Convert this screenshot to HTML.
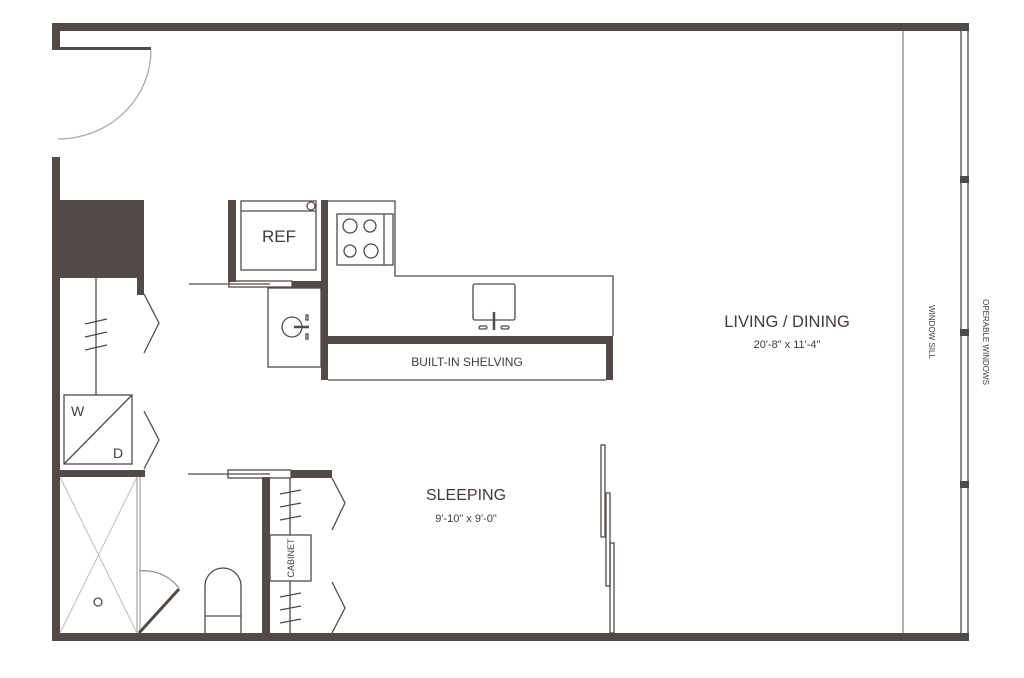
<!DOCTYPE html>
<html><head><meta charset="utf-8"><style>
html,body{margin:0;padding:0;background:#fff;}
svg{display:block;}
text{font-family:"Liberation Sans",sans-serif;fill:#433b39;}
</style></head><body>
<svg width="1024" height="678" viewBox="0 0 1024 678" xmlns="http://www.w3.org/2000/svg">
<g fill="#524a46">
<rect x="52" y="23" width="917" height="8"/>
<rect x="52" y="633" width="917" height="8"/>
<rect x="52" y="23" width="8" height="27"/>
<rect x="52" y="47" width="99" height="3"/>
<rect x="52" y="157" width="8" height="484"/>
<rect x="60" y="200" width="84" height="78"/>
<rect x="137" y="278" width="7" height="17"/>
<rect x="60" y="470" width="85" height="7"/>
<rect x="228" y="200" width="8" height="82"/>
<rect x="292" y="281" width="30" height="7"/>
<rect x="321" y="200" width="7" height="180"/>
<rect x="328" y="336" width="285" height="8"/>
<rect x="606" y="344" width="7" height="36"/>
<rect x="262" y="477" width="8" height="156"/>
<rect x="291" y="470" width="41" height="8"/>
<rect x="960" y="176" width="9" height="7"/>
<rect x="960" y="329" width="9" height="7"/>
<rect x="960" y="481" width="9" height="7"/>
</g>
<g fill="none" stroke="#524a46" stroke-width="1.3">
<path d="M151 50 A93 89 0 0 1 58 139" stroke="#aaa"/>
<line x1="96" y1="278" x2="96" y2="395"/>
<line x1="85" y1="324" x2="107" y2="319"/><line x1="85" y1="337" x2="107" y2="332"/><line x1="85" y1="350" x2="107" y2="345"/>
<polyline points="144,294 159,323 144,353"/>
<polyline points="144,411 159,440 144,469"/>
<rect x="64" y="395" width="68" height="69"/>
<line x1="64" y1="464" x2="132" y2="395"/>
<line x1="189" y1="284" x2="229" y2="284"/>
<rect x="229" y="281" width="63" height="6"/>
<line x1="229" y1="284" x2="270" y2="284"/>
<rect x="241" y="201" width="75" height="69"/>
<line x1="241" y1="211" x2="316" y2="211"/>
<circle cx="311" cy="206" r="4"/>
<rect x="268" y="288" width="53" height="79"/>
<circle cx="292" cy="327" r="10"/>
<line x1="294" y1="327" x2="309" y2="327" stroke-width="2.5"/>
<rect x="306" y="315" width="2" height="5"/><rect x="306" y="334" width="2" height="5"/>
<polyline points="328,201 395,201 395,276 613,276 613,336"/>
<rect x="337" y="214" width="56" height="51"/>
<line x1="384" y1="214" x2="384" y2="265"/>
<circle cx="350" cy="226" r="7"/><circle cx="370" cy="226" r="6"/><circle cx="350" cy="251" r="6"/><circle cx="371" cy="251" r="7"/>
<rect x="473" y="284" width="42" height="36" rx="2"/>
<line x1="494" y1="312" x2="494" y2="330" stroke-width="2.5"/>
<rect x="479" y="326" width="8" height="3" rx="1.5"/><rect x="501" y="326" width="8" height="3" rx="1.5"/>
<line x1="328" y1="380" x2="606" y2="380"/>
<g stroke="#bbb" stroke-width="1"><line x1="60" y1="477" x2="137" y2="633"/><line x1="137" y1="477" x2="60" y2="633"/></g>
<line x1="137" y1="477" x2="137" y2="633" stroke="#aaa"/><line x1="140" y1="477" x2="140" y2="633" stroke="#aaa"/>
<circle cx="98" cy="602" r="4"/>
<path d="M139 571 A44 44 0 0 1 179 588" stroke="#999"/>
<line x1="139" y1="633" x2="179" y2="589" stroke-width="3"/>
<path d="M205 633 L205 586 A18 18 0 0 1 241 586 L241 633"/>
<line x1="205" y1="616" x2="241" y2="616"/>
<line x1="188" y1="474" x2="228" y2="474"/>
<rect x="228" y="470" width="63" height="8"/>
<line x1="228" y1="474" x2="270" y2="474"/>
<line x1="290" y1="478" x2="290" y2="633"/>
<line x1="280" y1="494" x2="301" y2="490"/><line x1="280" y1="507" x2="301" y2="503"/><line x1="280" y1="520" x2="301" y2="516"/>
<line x1="280" y1="597" x2="301" y2="593"/><line x1="280" y1="610" x2="301" y2="606"/><line x1="280" y1="623" x2="301" y2="619"/>
<rect x="270" y="535" width="41" height="46" fill="#fff"/>
<polyline points="332,478 345,503 332,530"/>
<polyline points="332,582 345,608 332,633"/>
<rect x="601" y="445" width="4" height="92"/>
<rect x="606" y="493" width="4" height="93"/>
<rect x="610" y="543" width="4" height="90"/>
<line x1="903" y1="31" x2="903" y2="633" stroke="#888"/>
<line x1="961" y1="31" x2="961" y2="633"/>
<line x1="968" y1="31" x2="968" y2="633"/>
</g>
<text x="279" y="242" font-size="17" text-anchor="middle">REF</text>
<text x="71" y="416" font-size="14">W</text>
<text x="118" y="458" font-size="14" text-anchor="middle">D</text>
<text x="467" y="366" font-size="12" text-anchor="middle">BUILT-IN SHELVING</text>
<text transform="translate(294,558) rotate(-90)" font-size="9" text-anchor="middle">CABINET</text>
<text x="787" y="327" font-size="16.5" text-anchor="middle">LIVING / DINING</text>
<text x="787" y="348" font-size="11" text-anchor="middle">20'-8" x 11'-4"</text>
<text x="466" y="500" font-size="16" text-anchor="middle">SLEEPING</text>
<text x="466" y="522" font-size="11" text-anchor="middle">9'-10" x 9'-0"</text>
<text transform="translate(929,332) rotate(90)" font-size="8" text-anchor="middle">WINDOW SILL</text>
<text transform="translate(983,342) rotate(90)" font-size="8" text-anchor="middle">OPERABLE WINDOWS</text>
</svg>
</body></html>
